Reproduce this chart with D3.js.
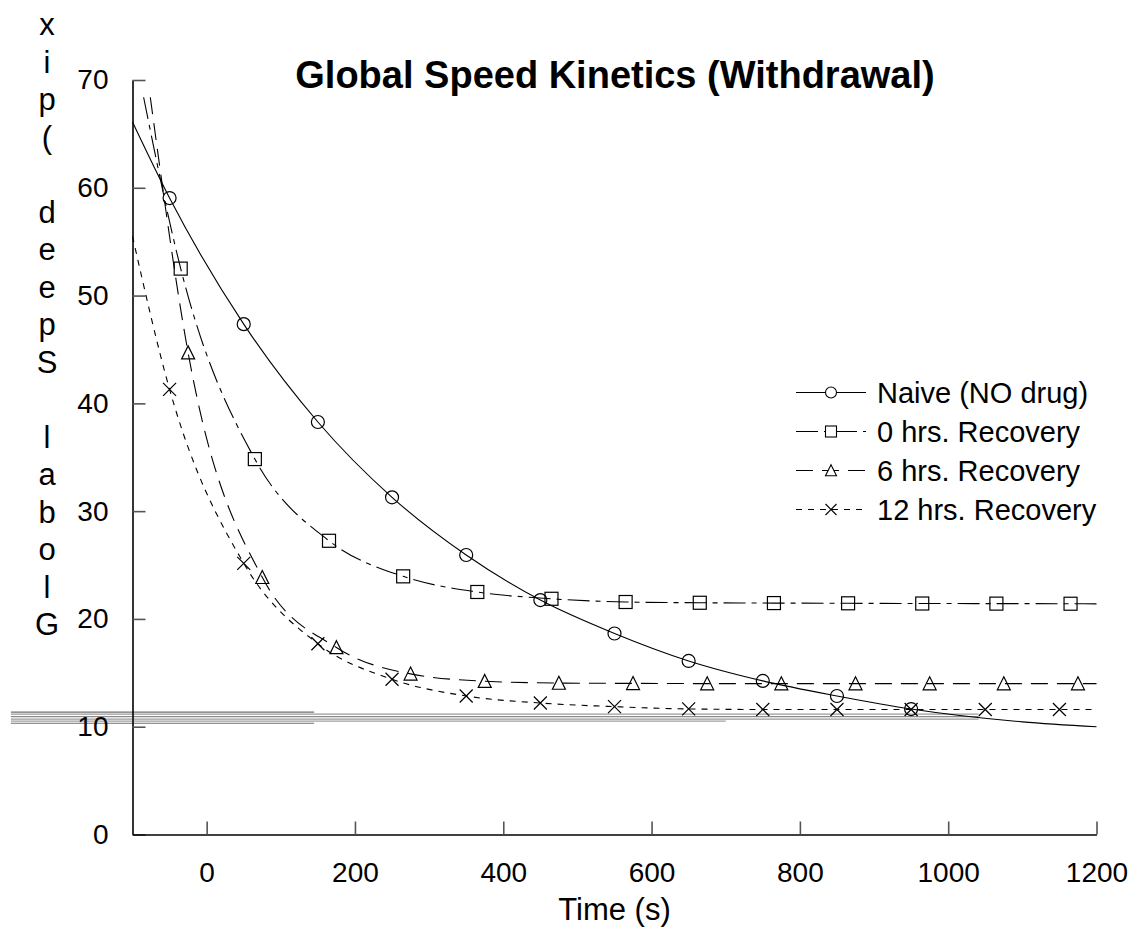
<!DOCTYPE html>
<html><head><meta charset="utf-8">
<script src="https://cdn.jsdelivr.net/npm/d3@7"></script>
<style>body{margin:0;background:#fff}svg{display:block}text{font-family:"Liberation Sans",Arial,sans-serif;fill:#000}</style>
</head><body>
<script>
const titleText = "Global Speed Kinetics (Withdrawal)";
const xLabel = "Time (s)";
const yLabel = "Global Speed (pix";
const xTicks = [0, 200, 400, 600, 800, 1000, 1200];
const yTicks = [0, 10, 20, 30, 40, 50, 60, 70];
const seriesNames = ["Naive (NO drug)", "0 hrs. Recovery", "6 hrs. Recovery", "12 hrs. Recovery"];

// marker points
const naiveX = [-50, 50, 150, 250, 350, 450, 550, 650, 750, 850, 950];
const naiveY = [59.05, 47.35, 38.27, 31.28, 25.93, 21.75, 18.65, 16.1, 14.25, 12.85, 11.64];
const rec0X = [-35, 65, 165, 265, 365, 465, 565, 665, 765, 865, 965, 1065, 1165];
const rec0Y = [52.5, 34.83, 27.25, 23.95, 22.5, 21.87, 21.57, 21.5, 21.47, 21.45, 21.43, 21.42, 21.41];
const rec6X = [-25, 75, 175, 275, 375, 475, 575, 675, 775, 875, 975, 1075, 1175];
const rec6Y = [44.7, 23.86, 17.35, 14.9, 14.22, 14.05, 14.02, 14.0, 14.0, 14.0, 14.0, 14.0, 14.0];
const rec12X = [-50, 50, 150, 250, 350, 450, 550, 650, 750, 850, 950, 1050, 1150];
const rec12Y = [41.3, 25.16, 17.7, 14.4, 12.85, 12.2, 11.86, 11.65, 11.6, 11.6, 11.6, 11.6, 11.6];

// fitted-curve extents (start and end of each drawn curve)
const naiveStart = [-100, 66.1], naiveEnd = [[1100, 10.45], [1200, 10.0]];
const rec0Start = [-85, 68.4], rec0End = [[1200, 21.4]];
const rec6Start = [-76, 68.4], rec6End = [[1200, 14.0]];
const rec12Start = [-100, 55.5], rec12End = [[1200, 11.6]];

// stray grey horizontal rules visible near y=10-11
const strayLines = [
  {x0: -264, x1: 145, v: 11.35, c: "#707070"},
  {x0: -264, x1: 1041, v: 11.16, c: "#9a9a9a"},
  {x0: -264, x1: 1041, v: 10.94, c: "#8a8a8a"},
  {x0: -264, x1: 1041, v: 10.70, c: "#9a9a9a"},
  {x0: -264, x1: 700, v: 10.51, c: "#a0a0a0"},
  {x0: -264, x1: 145, v: 10.32, c: "#707070"}
];

const W = 1136, H = 943;
const svg = d3.select("body").append("svg").attr("width", W).attr("height", H);
const x = d3.scaleLinear().domain([-100, 1200]).range([132.5, 1096.5]);
const y = d3.scaleLinear().domain([0, 70]).range([834.5, 80]);

// stray lines
svg.append("g").selectAll("line").data(strayLines).join("line")
  .attr("x1", d => x(d.x0)).attr("x2", d => x(d.x1))
  .attr("y1", d => y(d.v)).attr("y2", d => y(d.v))
  .attr("stroke", d => d.c).attr("stroke-width", 1.2);

// axes
const fmt = d3.format("d");
const yAxis = d3.axisLeft(y).tickValues(yTicks).tickFormat(fmt).tickSizeInner(-13).tickSizeOuter(0).tickPadding(24);
const gy = svg.append("g").attr("transform", `translate(${x(-100)},0)`).call(yAxis);
gy.select(".domain").attr("stroke", "#000").attr("stroke-width", 1.6);
gy.selectAll(".tick line").attr("stroke", "#555").attr("stroke-width", 1.6);
gy.selectAll(".tick text").attr("font-size", 28).attr("font-family", "Liberation Sans, Arial, sans-serif");

const xAxis = d3.axisBottom(x).tickValues(xTicks).tickFormat(fmt).tickSizeInner(-13).tickSizeOuter(0).tickPadding(28);
const gx = svg.append("g").attr("transform", `translate(0,${y(0)})`).call(xAxis);
gx.select(".domain").attr("stroke", "#000").attr("stroke-width", 1.6);
gx.selectAll(".tick line").attr("stroke", "#555").attr("stroke-width", 1.6);
gx.selectAll(".tick text").attr("font-size", 28).attr("font-family", "Liberation Sans, Arial, sans-serif");

// title and labels
svg.append("text").attr("x", 615).attr("y", 88).attr("text-anchor", "middle")
  .attr("font-size", 38).attr("font-weight", "bold").text(titleText);
svg.append("text").attr("x", x(550)).attr("y", 920).attr("text-anchor", "middle")
  .attr("font-size", 31).text(xLabel);
const yChars = yLabel.split("").reverse();
svg.append("g").selectAll("text").data(yChars).join("text")
  .attr("x", 47).attr("y", (d, i) => 35 + i * 37.5).attr("text-anchor", "middle")
  .attr("font-size", 31).text(d => d);

// series
const series = [
  {name: seriesNames[0], xs: naiveX, ys: naiveY, start: naiveStart, end: naiveEnd, dash: null, marker: "circle"},
  {name: seriesNames[1], xs: rec0X, ys: rec0Y, start: rec0Start, end: rec0End, dash: "22,6,5,6", marker: "square"},
  {name: seriesNames[2], xs: rec6X, ys: rec6Y, start: rec6Start, end: rec6End, dash: "17,9", marker: "triangle"},
  {name: seriesNames[3], xs: rec12X, ys: rec12Y, start: rec12Start, end: rec12End, dash: "6,6", marker: "cross"}
];

const line = d3.line().x(d => x(d[0])).y(d => y(d[1])).curve(d3.curveMonotoneX);

function drawMarker(g, type, cx, cy, s) {
  const h = s / 2;
  if (type === "circle") {
    g.append("circle").attr("cx", cx).attr("cy", cy).attr("r", h);
  } else if (type === "square") {
    g.append("rect").attr("x", cx - h).attr("y", cy - h).attr("width", s).attr("height", s);
  } else if (type === "triangle") {
    g.append("path").attr("d", `M${cx},${cy - h * 1.05}L${cx + h},${cy + h * 0.95}L${cx - h},${cy + h * 0.95}Z`);
  } else {
    g.append("path").attr("d", `M${cx - h},${cy - h}L${cx + h},${cy + h}M${cx - h},${cy + h}L${cx + h},${cy - h}`);
  }
}

series.forEach(s => {
  const pts = [s.start].concat(s.xs.map((v, i) => [v, s.ys[i]]), s.end);
  svg.append("path").datum(pts).attr("d", line).attr("fill", "none")
    .attr("stroke", "#000").attr("stroke-width", 1.1)
    .attr("stroke-dasharray", s.dash);
  const mg = svg.append("g").attr("fill", "none").attr("stroke", "#000").attr("stroke-width", 1.2);
  s.xs.forEach((v, i) => drawMarker(mg, s.marker, x(v), y(s.ys[i]), 13));
});

// legend
const lg = svg.append("g");
series.forEach((s, i) => {
  const cy = 392.5 + i * 39;
  lg.append("line").attr("x1", 796).attr("x2", 866).attr("y1", cy).attr("y2", cy)
    .attr("stroke", "#000").attr("stroke-width", 1.1).attr("stroke-dasharray", s.dash);
  const mg = lg.append("g").attr("fill", "#fff").attr("stroke", "#000").attr("stroke-width", 1.1);
  drawMarker(mg, s.marker, 831, cy, 11);
  lg.append("text").attr("x", 877).attr("y", cy + 10).attr("font-size", 29).text(s.name);
});
</script>
</body></html>
